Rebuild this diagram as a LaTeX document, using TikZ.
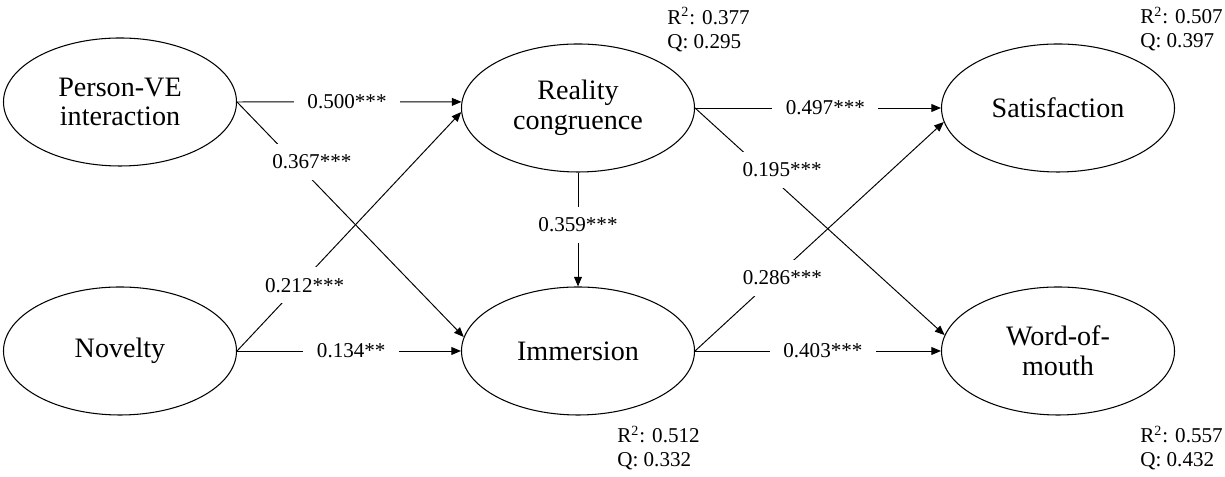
\documentclass[tikz,border=0pt]{standalone}
\usepackage{fontspec}
\setmainfont{Liberation Serif}
\usetikzlibrary{
    arrows.meta,
    positioning,
    shapes.geometric
}

\begin{document}
\begin{tikzpicture}[
    construct/.style={ellipse, draw=black, line width=0.6pt, minimum width=4.66cm, minimum height=2.56cm, inner sep=0pt, align=center, font=\fontsize{16}{17}\selectfont},
    link/.style={-{Triangle[length=5.5pt, width=4.5pt]}, line width=0.55pt},
    coef/.style={fill=white, inner xsep=0.27cm, inner ysep=0.22cm, font=\fontsize{12}{13.6}\selectfont},
    stat/.style={anchor=west, align=left, inner sep=0pt, font=\fontsize{12}{13.6}\selectfont},
]
    \useasboundingbox (0, 0) rectangle (24.5, 9.54);

    % Constructs
    \node[construct] (pve) at (2.40, 7.50) {Person-VE\\interaction};
    \node[construct] (nov) at (2.40, 2.52) {Novelty};
    \node[construct] (rc) at (11.56, 7.38) {Reality\\congruence};
    \node[construct] (imm) at (11.56, 2.52) {Immersion};
    \node[construct] (sat) at (21.16, 7.38) {Satisfaction};
    \node[construct] (wom) at (21.16, 2.52) {Word-of-\\mouth};

    % Explained variance
    \node[stat] (rcstat) at (13.34, 8.95) {R\textsuperscript{2}: 0.377\\Q: 0.295};
    \node[stat] (satstat) at (22.80, 8.96) {R\textsuperscript{2}: 0.507\\Q: 0.397};
    \node[stat] (immstat) at (12.34, 0.58) {R\textsuperscript{2}: 0.512\\Q: 0.332};
    \node[stat] (womstat) at (22.80, 0.58) {R\textsuperscript{2}: 0.557\\Q: 0.432};

    % Paths
    \draw[link] (pve.east) -- (rc.177.5) node[coef, pos=0.49] {0.500***};
    \draw[link] (pve.east) -- (imm.173) node[coef, pos=0.255, xshift=0.34cm] {0.367***};
    \draw[link] (nov.east) -- (rc.182) node[coef, pos=0.275, xshift=0.12cm] {0.212***};
    \draw[link] (nov.east) -- (imm.west) node[coef, pos=0.51] {0.134**};
    \draw[link] (rc.south) -- (imm.north) node[coef, pos=0.46] {0.359***};
    \draw[link] (rc.east) -- (sat.west) node[coef, pos=0.53] {0.497***};
    \draw[link] (rc.east) -- (wom.172) node[coef, pos=0.273, xshift=0.38cm] {0.195***};
    \draw[link] (imm.east) -- (sat.187) node[coef, pos=0.319, xshift=0.16cm] {0.286***};
    \draw[link] (imm.east) -- (wom.west) node[coef, pos=0.52] {0.403***};

\end{tikzpicture}
\end{document}
